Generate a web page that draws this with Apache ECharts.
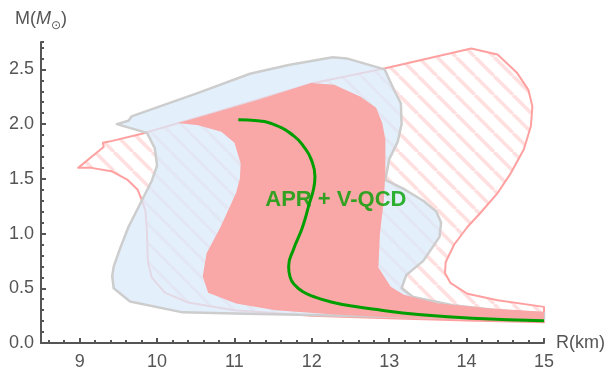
<!DOCTYPE html>
<html style="height: 100%">
<head>
    <meta charset="UTF-8">
    <script src="https://cdn.jsdelivr.net/npm/echarts@6/dist/echarts.min.js"></script>
</head>
<body style="height: 100%; margin: 0; background: #fff">
    <div id="main" style="width: 616px; height: 371px;"></div>
    <script type="text/javascript">
        // data: [R (km), M (Msun)]
        var hatchBand = [
            [8.98, 1.60], [9.15, 1.70], [9.31, 1.79], [9.30, 1.83], [9.38, 1.84], [9.79, 1.91],
            [10.57, 2.07], [11.99, 2.37], [12.95, 2.51], [14.06, 2.69], [14.40, 2.635],
            [14.65, 2.47], [14.80, 2.31], [14.85, 2.16], [14.83, 1.98], [14.74, 1.77],
            [14.57, 1.55], [14.40, 1.37], [14.18, 1.19], [14.01, 1.06], [13.84, 0.90],
            [13.73, 0.74], [13.72, 0.64], [13.79, 0.55], [14.01, 0.45], [14.40, 0.39],
            [15.0, 0.33], [15.0, 0.19], [14.0, 0.205], [13.0, 0.225], [12.0, 0.25],
            [11.0, 0.30], [10.4, 0.37], [10.1, 0.46], [9.93, 0.60], [9.88, 0.75],
            [9.87, 1.00], [9.85, 1.21], [9.80, 1.31], [9.75, 1.40], [9.62, 1.49],
            [9.41, 1.57], [9.15, 1.60]
        ];
        var blueBand = [
            [9.48, 2.00], [9.63, 2.03], [9.67, 2.07], [10.21, 2.205], [10.55, 2.29],
            [11.20, 2.46], [11.70, 2.54], [12.27, 2.61], [12.45, 2.60], [12.94, 2.50],
            [13.07, 2.30], [13.15, 2.19], [13.16, 2.00], [13.11, 1.84], [13.00, 1.68],
            [12.95, 1.49], [13.18, 1.41], [13.44, 1.30], [13.61, 1.20], [13.67, 1.10],
            [13.65, 0.97], [13.44, 0.75], [13.22, 0.62], [13.16, 0.50], [13.31, 0.42],
            [13.82, 0.345], [14.40, 0.30], [15.0, 0.27], [15.0, 0.21], [14.0, 0.225],
            [13.0, 0.24], [12.0, 0.255], [11.0, 0.27], [10.33, 0.28], [9.65, 0.38],
            [9.44, 0.50], [9.42, 0.61], [9.44, 0.70], [9.52, 0.86], [9.63, 1.06],
            [9.78, 1.27], [9.93, 1.48], [10.00, 1.62], [9.97, 1.78], [9.87, 1.92]
        ];
        var pinkBand = [
            [10.27, 2.01], [10.57, 2.07], [11.30, 2.22], [11.99, 2.375], [12.29, 2.36],
            [12.63, 2.25], [12.83, 2.15], [12.91, 2.01], [12.95, 1.86], [12.95, 1.55],
            [12.93, 1.30], [12.88, 1.00], [12.86, 0.69], [13.02, 0.515], [13.19, 0.44],
            [13.62, 0.363], [14.27, 0.317], [15.0, 0.286], [15.0, 0.20], [14.0, 0.215],
            [13.0, 0.235], [12.29, 0.26], [11.53, 0.30], [11.02, 0.36], [10.66, 0.46],
            [10.59, 0.61], [10.64, 0.82], [10.82, 1.06], [11.02, 1.37], [11.07, 1.50],
            [11.08, 1.64], [11.00, 1.83], [10.83, 1.93], [10.53, 1.99]
        ];
        var aprVqcd = [
            [11.05, 2.04], [11.30, 2.03], [11.53, 1.99], [11.77, 1.89], [11.90, 1.79],
            [11.99, 1.68], [12.04, 1.52], [12.02, 1.40], [11.97, 1.28], [11.88, 1.06],
            [11.76, 0.85], [11.70, 0.70], [11.72, 0.60], [11.78, 0.53], [11.88, 0.47],
            [12.02, 0.425], [12.25, 0.375], [12.54, 0.335], [12.90, 0.30], [13.31, 0.265],
            [14.07, 0.225], [15.0, 0.204]
        ];
        var curveLabel = { text: 'APR + V-QCD', at: [12.31, 1.31] };
        var xTicks = [9, 10, 11, 12, 13, 14, 15];
        var yTicks = [0, 0.5, 1.0, 1.5, 2.0, 2.5];

        var axisColor = '#555';
        var font = 'Liberation Sans, Arial, sans-serif';

        // diagonal hatch tile
        var tile = document.createElement('canvas');
        tile.width = 19; tile.height = 19;
        var g = tile.getContext('2d');
        g.strokeStyle = 'rgba(255,140,140,0.28)';
        g.lineWidth = 3.5;
        for (var k = -1; k <= 1; k++) {
            g.beginPath();
            g.moveTo(k * 19, 0);
            g.lineTo(k * 19 + 19, 19);
            g.stroke();
        }

        function polygonSeries(pts, style, z) {
            return {
                type: 'custom',
                z: z,
                silent: true,
                data: [[12, 1]],
                renderItem: function (params, api) {
                    return {
                        type: 'polygon',
                        shape: { points: pts.map(function (p) { return api.coord(p); }) },
                        style: style
                    };
                }
            };
        }

        var myChart = echarts.init(document.getElementById('main'));
        var option = {
            animation: false,
            textStyle: { fontFamily: font },
            grid: { left: 41, right: 72, top: 42, bottom: 28, containLabel: false },
            xAxis: [{
                type: 'value', min: 8.5, max: 15, splitNumber: 6, minInterval: 1, maxInterval: 1,
                axisLine: { show: true, lineStyle: { color: axisColor, width: 2 } },
                axisTick: { show: true, inside: true, length: 5, customValues: xTicks,
                    lineStyle: { color: axisColor, width: 2 } },
                axisLabel: { customValues: xTicks, color: axisColor, fontSize: 18, margin: 10, fontFamily: font },
                splitLine: { show: false },
                name: 'R(km)', nameLocation: 'end', nameGap: 12,
                nameTextStyle: { color: axisColor, fontSize: 18, fontFamily: font, padding: [16, 0, 0, 0] }
            }, {
                type: 'value', min: 8.5, max: 15, position: 'bottom', splitNumber: 32,
                minInterval: 0.2, maxInterval: 0.2,
                axisLine: { show: false },
                axisTick: { show: true, inside: true, length: 3, lineStyle: { color: axisColor, width: 2 } },
                axisLabel: { show: false }, splitLine: { show: false }
            }],
            yAxis: [{
                type: 'value', min: 0, max: 2.75, interval: 0.5,
                axisLine: { show: true, lineStyle: { color: axisColor, width: 2 } },
                axisTick: { show: true, inside: true, length: 5, customValues: yTicks,
                    lineStyle: { color: axisColor, width: 2 } },
                axisLabel: { customValues: yTicks, color: axisColor, fontSize: 18, margin: 7, fontFamily: font,
                    formatter: function (v) { return v.toFixed(1); } },
                splitLine: { show: false },
                name: '{a|M(}{b|M}{c|\u2299}{a|)}', nameLocation: 'end', nameGap: 10,
                nameTextStyle: {
                    rich: {
                        a: { color: axisColor, fontSize: 18, fontFamily: font },
                        b: { color: axisColor, fontSize: 18, fontFamily: font, fontStyle: 'italic' },
                        c: { color: axisColor, fontSize: 12, fontFamily: 'DejaVu Sans', padding: [14, 0, 0, 0] }
                    }
                }
            }, {
                type: 'value', min: 0, max: 2.75, interval: 0.1, position: 'left',
                axisLine: { show: false },
                axisTick: { show: true, inside: true, length: 3, lineStyle: { color: axisColor, width: 2 } },
                axisLabel: { show: false }, splitLine: { show: false }
            }],
            series: [
                polygonSeries(hatchBand, { fill: { image: tile, repeat: 'repeat' }, stroke: '#ffa0a0', lineWidth: 2, lineJoin: 'round' }, 1),
                polygonSeries(blueBand, { fill: 'rgba(217,235,251,0.75)', stroke: '#cdcdcd', lineWidth: 2.5, lineJoin: 'round' }, 2),
                polygonSeries(pinkBand, { fill: '#faa7a7', stroke: null }, 3),
                {
                    type: 'line', z: 4, data: aprVqcd, smooth: true, symbol: 'none', silent: true,
                    lineStyle: { color: '#009e00', width: 3 }
                },
                {
                    type: 'scatter', z: 5, symbolSize: 0, silent: true,
                    data: [curveLabel.at],
                    label: {
                        show: true, position: 'inside', formatter: curveLabel.text,
                        color: '#00a000', fontWeight: 'bold', fontSize: 22, fontFamily: font
                    }
                }
            ]
        };
        myChart.setOption(option);
    </script>
</body>
</html>
